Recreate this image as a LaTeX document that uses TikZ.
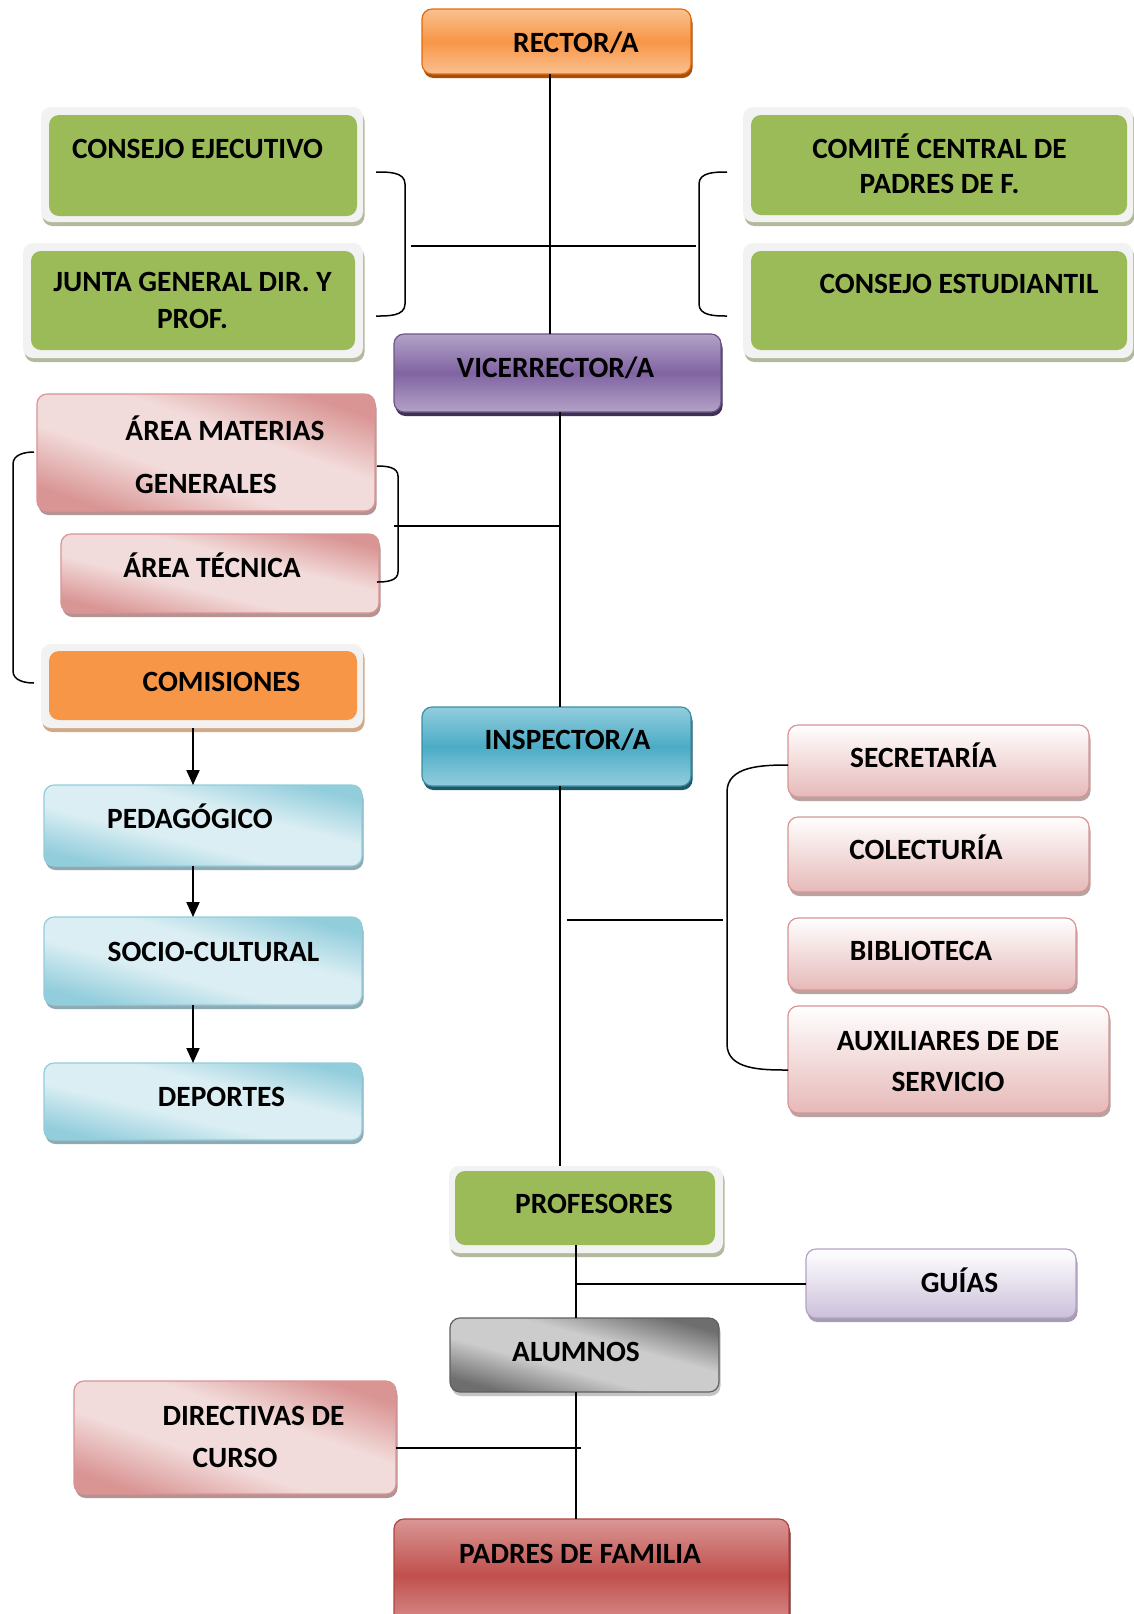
\documentclass[tikz,border=0pt]{standalone}
\usepackage{fontspec}
\setmainfont{Carlito}
\usetikzlibrary{shadows,arrows.meta}
\definecolor{orL}{HTML}{FAC090}
\definecolor{orM}{HTML}{F79646}
\definecolor{orB}{HTML}{E46C0A}
\definecolor{orS}{HTML}{A84F0A}
\definecolor{grF}{HTML}{9BBB59}
\definecolor{frC}{HTML}{F2F2F2}
\definecolor{grS}{HTML}{B1BA9C}
\definecolor{puL}{HTML}{B3A2C7}
\definecolor{puM}{HTML}{8064A2}
\definecolor{puB}{HTML}{6B558A}
\definecolor{puS}{HTML}{3F3151}
\definecolor{pkD}{HTML}{D99594}
\definecolor{pkL}{HTML}{F2DCDB}
\definecolor{pkS}{HTML}{B59393}
\definecolor{blD}{HTML}{92CDDC}
\definecolor{blL}{HTML}{DAEEF3}
\definecolor{blS}{HTML}{8FAAB2}
\definecolor{inL}{HTML}{93CDDD}
\definecolor{inM}{HTML}{4BACC6}
\definecolor{inB}{HTML}{3A8FA6}
\definecolor{inS}{HTML}{215968}
\definecolor{spB}{HTML}{E6B9B8}
\definecolor{spS}{HTML}{B8A3A3}
\definecolor{guB}{HTML}{CCC0DA}
\definecolor{guS}{HTML}{A69DB0}
\definecolor{alD}{HTML}{6E6E6E}
\definecolor{alL}{HTML}{CCCCCC}
\definecolor{alB}{HTML}{606060}
\definecolor{alS}{HTML}{C4C4C4}
\definecolor{reL}{HTML}{D99694}
\definecolor{reM}{HTML}{C0504D}
\definecolor{reB}{HTML}{B34440}
\definecolor{reS}{HTML}{632523}
\definecolor{coS}{HTML}{D2A987}
\pgfdeclareverticalshading{pinkdiag}{100bp}{color(0bp)=(pkD); color(25bp)=(pkD); color(42bp)=(pkL); color(58bp)=(pkL); color(75bp)=(pkD); color(100bp)=(pkD)}
\pgfdeclareverticalshading{bluediag}{100bp}{color(0bp)=(blD); color(25bp)=(blD); color(42bp)=(blL); color(58bp)=(blL); color(75bp)=(blD); color(100bp)=(blD)}
\pgfdeclareverticalshading{graydiag}{100bp}{color(0bp)=(alD); color(25bp)=(alD); color(42bp)=(alL); color(58bp)=(alL); color(75bp)=(alD); color(100bp)=(alD)}
\begin{document}
\begin{tikzpicture}[x=0.5pt,y=-0.5pt,
  bx/.style={rounded corners=5pt, inner sep=0pt, outer sep=0pt, line width=0.6pt},
  sh/.style={drop shadow={shadow xshift=0.75pt, shadow yshift=-2pt, fill=#1, opacity=1}},
  vgrad/.style n args={3}{top color=#1, bottom color=#1, middle color=#2, draw=#3},
  rectorbox/.style={bx, vgrad={orL}{orM}{orB}, sh=orS},
  purplebox/.style={bx, vgrad={puL}{puM}{puB}, sh=puS},
  inspbox/.style={bx, vgrad={inL}{inM}{inB}, sh=inS},
  redbox/.style={bx, vgrad={reL}{reM}{reB}, sh=reS},
  pinkbox/.style={bx, shading=pinkdiag, shading angle=#1, draw=pkD, sh=pkS},
  bluebox/.style={bx, shading=bluediag, shading angle=#1, draw=blD, sh=blS},
  graybox/.style={bx, shading=graydiag, shading angle=#1, draw=alB, sh=alS},
  staffbox/.style={bx, top color=white, bottom color=spB, draw=pkD, sh=spS},
  guiabox/.style={bx, top color=white, bottom color=guB, draw=puL, sh=guS},
  framebox/.style={bx, fill=frC, sh=#1},
  greenbox/.style={bx, fill=grF},
  orangebox/.style={bx, fill=orM},
  txt/.style={font=\bfseries\fontsize{14.7}{17}\selectfont, anchor=base, inner sep=0pt},
  vline/.style={line width=0.7pt},
  hline/.style={line width=1pt},
  brk/.style={line width=0.75pt},
  arr/.style={line width=1pt, -{Triangle[length=7.5pt,width=6.5pt]}}
]
\fill[white] (0,0) rectangle (1134,1614);
\useasboundingbox (0,0) rectangle (1134,1614);

% boxes
\node[rectorbox, minimum width=134.5pt, minimum height=32.5pt] (rector) at (556.5,41.5) {};
\node[framebox=grS, minimum width=161pt, minimum height=57.5pt] (cejeF) at (202,164.5) {};
\node[greenbox, minimum width=154pt, minimum height=50.5pt] (ceje) at (203,165.5) {};
\node[framebox=grS, minimum width=170pt, minimum height=57.5pt] (juntaF) at (193,300.5) {};
\node[greenbox, minimum width=162pt, minimum height=49.5pt] (junta) at (193,300.5) {};
\node[framebox=grS, minimum width=195pt, minimum height=57.5pt] (comiteF) at (938,164.5) {};
\node[greenbox, minimum width=188pt, minimum height=50pt] (comite) at (939,165) {};
\node[framebox=grS, minimum width=195pt, minimum height=57.5pt] (cestudF) at (938,300.5) {};
\node[greenbox, minimum width=188pt, minimum height=49.5pt] (cestud) at (939,300.5) {};
\node[purplebox, minimum width=163.5pt, minimum height=39pt] (vice) at (557.5,373) {};
\node[pinkbox=-19, minimum width=169pt, minimum height=58.5pt] (amg) at (206,452.5) {};
\node[pinkbox=-14, minimum width=159pt, minimum height=39.5pt] (atec) at (220,573.5) {};
\node[framebox=coS, minimum width=161pt, minimum height=42pt] (comisF) at (202,686) {};
\node[orangebox, minimum width=154pt, minimum height=34.5pt] (comis) at (203,685.5) {};
\node[bluebox=-14.3, minimum width=159pt, minimum height=40.5pt] (ped) at (203,825.5) {};
\node[bluebox=-15.5, minimum width=159pt, minimum height=44pt] (soc) at (203,961) {};
\node[bluebox=-13.6, minimum width=159pt, minimum height=38.5pt] (dep) at (203,1101.5) {};
\node[inspbox, minimum width=134.5pt, minimum height=39.5pt] (insp) at (556.5,746.5) {};
\node[staffbox, minimum width=150.5pt, minimum height=36pt] (secr) at (938.5,761) {};
\node[staffbox, minimum width=150.5pt, minimum height=37.5pt] (colec) at (938.5,854.5) {};
\node[staffbox, minimum width=144pt, minimum height=36pt] (bibl) at (932,954) {};
\node[staffbox, minimum width=160.5pt, minimum height=53.5pt] (aux) at (948.5,1059.5) {};
\node[framebox=grS, minimum width=137pt, minimum height=43.5pt] (profF) at (586,1209.5) {};
\node[greenbox, minimum width=130pt, minimum height=37pt] (prof) at (585,1208) {};
\node[guiabox, minimum width=135pt, minimum height=34.5pt] (guias) at (941,1283.5) {};
\node[graybox=-15.4, minimum width=134.5pt, minimum height=37pt] (alum) at (584.5,1355) {};
\node[pinkbox=-19.3, minimum width=161pt, minimum height=56.5pt] (dirc) at (235,1437.5) {};
\node[redbox, minimum width=197.5pt, minimum height=56pt] (padres) at (591.5,1575) {};

% texts
\node[txt] (t1) at (576,52) {RECTOR/A};
\node[txt] (t2) at (197.5,158) {CONSEJO EJECUTIVO};
\node[txt] (t3) at (192.5,291) {JUNTA GENERAL DIR. Y};
\node[txt] (t4) at (192.5,328) {PROF.};
\node[txt] (t5) at (939.5,158) {COMITÉ CENTRAL DE};
\node[txt] (t6) at (939.5,193) {PADRES DE F.};
\node[txt] (t7) at (959,293) {CONSEJO ESTUDIANTIL};
\node[txt] (t8) at (555.5,377) {VICERRECTOR/A};
\node[txt] (t9) at (225,440) {ÁREA MATERIAS};
\node[txt] (t10) at (206,493) {GENERALES};
\node[txt] (t11) at (212,577) {ÁREA TÉCNICA};
\node[txt] (t12) at (221.5,691) {COMISIONES};
\node[txt] (t13) at (190,828) {PEDAGÓGICO};
\node[txt] (t14) at (213.5,961) {SOCIO-CULTURAL};
\node[txt] (t15) at (221.5,1106) {DEPORTES};
\node[txt] (t16) at (567.5,749) {INSPECTOR/A};
\node[txt] (t17) at (923.5,767) {SECRETARÍA};
\node[txt] (t18) at (926,859) {COLECTURÍA};
\node[txt] (t19) at (921,960) {BIBLIOTECA};
\node[txt] (t20) at (948,1050) {AUXILIARES DE DE};
\node[txt] (t21) at (948,1091) {SERVICIO};
\node[txt] (t22) at (594,1213) {PROFESORES};
\node[txt] (t23) at (959.5,1292) {GUÍAS};
\node[txt] (t24) at (576,1361) {ALUMNOS};
\node[txt] (t25) at (253.5,1425) {DIRECTIVAS DE};
\node[txt] (t26) at (235,1467) {CURSO};
\node[txt] (t27) at (580,1563) {PADRES DE FAMILIA};

% column coordinates
\coordinate (cx1) at (550,0);
\coordinate (cx2) at (560,0);
\coordinate (cx3) at (576,0);
\coordinate (cx4) at (193,0);

% vertical connectors
\draw[vline] (rector.south -| cx1) -- (vice.north -| cx1);
\draw[vline] (vice.south -| cx2) -- (insp.north -| cx2);
\draw[vline] (insp.south -| cx2) -- (profF.north -| cx2);
\draw[vline] (prof.south -| cx3) -- (alum.north -| cx3);
\draw[vline] (alum.south -| cx3) -- (padres.north -| cx3);
\draw[arr] (comisF.south -| cx4) -- (ped.north -| cx4);
\draw[arr] (ped.south -| cx4) -- (soc.north -| cx4);
\draw[arr] (soc.south -| cx4) -- (dep.north -| cx4);

% brackets
\coordinate (b1a) at (376,172);
\coordinate (b1b) at (376,316);
\draw[brk] (b1a) to[out=0,in=90] (405,184) -- (405,304) to[out=-90,in=0] (b1b);
\coordinate (b2a) at (727,172);
\coordinate (b2b) at (727,316);
\draw[brk] (b2a) to[out=180,in=90] (699,184) -- (699,304) to[out=-90,in=180] (b2b);
\coordinate (h1a) at (411,246);
\coordinate (h1b) at (696,246);
\draw[hline] (h1a) -- (h1b);

\coordinate (b3a) at (377,466);
\coordinate (b3b) at (377,582);
\draw[brk] (b3a) to[out=0,in=90] (398,476) -- (398,572) to[out=-90,in=0] (b3b);
\coordinate (h2a) at (394,526);
\draw[hline] (h2a) -- (h2a -| cx2);

\coordinate (b4a) at (34,452);
\coordinate (b4b) at (34,683);
\draw[brk] (b4a) to[out=180,in=90] (13,464) -- (13,671) to[out=-90,in=180] (b4b);

\coordinate (b5a) at (788,765);
\coordinate (b5b) at (788,1070);
\draw[brk] (b5a) to[out=180,in=90] (727,792) -- (727,1044) to[out=-90,in=180] (b5b);
\coordinate (h3a) at (567,920);
\coordinate (h3b) at (723,920);
\draw[hline] (h3a) -- (h3b);

\coordinate (h4) at (576,1284);
\draw[hline] (h4) -- (h4 -| guias.west);
\coordinate (h5) at (581,1448);
\draw[hline] (h5 -| dirc.east) -- (h5);
\end{tikzpicture}
\end{document}
